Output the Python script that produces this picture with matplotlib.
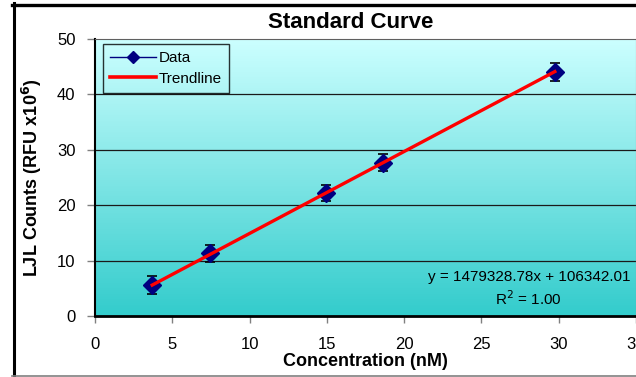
import matplotlib
matplotlib.use("Agg")
import matplotlib.pyplot as plt
import numpy as np
from matplotlib.lines import Line2D

plt.rcParams['font.family'] = ['Liberation Sans', 'DejaVu Sans']

# data (counts in RFU x10^6)
conc = [3.7, 7.45, 14.95, 18.6, 29.75]
counts = [5.6, 11.3, 22.2, 27.7, 44.1]
errors = [1.6, 1.5, 1.5, 1.5, 1.6]

# trendline y = slope*x + intercept (RFU)
slope = 1479328.78
intercept = 106342.01
r2 = 1.00

x_ticks = [0, 5, 10, 15, 20, 25, 30, 35]
y_ticks = [0, 10, 20, 30, 40, 50]

W, H = 636, 377
fig = plt.figure(figsize=(W / 100, H / 100), dpi=100)
ax = fig.add_axes([95 / W, 1 - 316 / H, 541 / W, 277 / H])

# gradient background of the plot area
top_c = np.array([204, 255, 255]) / 255
bot_c = np.array([51, 204, 204]) / 255
t = np.linspace(0, 1, 256)[:, None]
grad = (top_c * (1 - t) + bot_c * t)[:, None, :]
ax.imshow(grad, extent=[0, 35, 0, 50], aspect='auto', zorder=0, origin='upper')

ax.set_xlim(0, 35)
ax.set_ylim(0, 50)

# horizontal gridlines
for yv in y_ticks[1:-1]:
    ax.axhline(yv, color='#1a1a1a', lw=0.9, zorder=1)

# data with error bars
ax.errorbar(conc, counts, yerr=errors, fmt='none', ecolor='black',
            elinewidth=1.0, capsize=3.5, capthick=1.2, zorder=3)
ax.plot(conc, counts, linestyle='none', marker='D', markersize=9,
        color='#000080', zorder=4)

# trendline
xs = np.array([conc[0], conc[-1]])
ys = (slope * xs + intercept) / 1e6
ax.plot(xs, ys, color='#ff0000', lw=2.4, zorder=5)

eq = 'y = %.2fx + %.2f\nR$^2$ = %.2f' % (slope, intercept, r2)
ax.text(28.07, 4.9, eq, ha='center', va='center', fontsize=11,
        linespacing=1.3, zorder=6)

ax.set_xticks(x_ticks)
ax.set_yticks(y_ticks)
ax.tick_params(axis='x', direction='out', length=5, width=1, color='#808080',
               labelsize=12, pad=10)
ax.tick_params(axis='y', direction='out', length=6, width=1, color='#808080',
               labelsize=12, pad=8)

ax.spines['left'].set_color('black')
ax.spines['left'].set_linewidth(1.5)
ax.spines['bottom'].set_color('black')
ax.spines['bottom'].set_linewidth(2.0)
ax.spines['top'].set_color('#606060')
ax.spines['top'].set_linewidth(0.8)
ax.spines['right'].set_color('#909090')
ax.spines['right'].set_linewidth(0.8)

ax.set_xlabel('Concentration (nM)', fontsize=13, fontweight='bold', labelpad=1)
ax.set_ylabel('LJL Counts (RFU x10$^{\\mathbf{6}}$)', fontsize=13,
              fontweight='bold', labelpad=9)
fig.text(351 / W, 1 - 22 / H, 'Standard Curve', ha='center', va='center',
         fontsize=16, fontweight='bold')

handles = [
    Line2D([], [], color='#000080', lw=1, marker='D', markersize=6),
    Line2D([], [], color='#ff0000', lw=2.6),
]
leg = ax.legend(handles, ['Data', 'Trendline'], loc='upper left',
                bbox_to_anchor=(8 / 541, 1 - 5 / 277), fontsize=11,
                frameon=True, fancybox=False, facecolor='none',
                edgecolor='black', handlelength=3.0, handletextpad=0.2,
                borderpad=0.45, labelspacing=0.45, borderaxespad=0)
leg.get_frame().set_linewidth(1.0)

# outer chart frame (right side cut off in the reference)
fig.add_artist(Line2D([13.5 / W, 13.5 / W], [0, 1 - 3 / H],
                      transform=fig.transFigure, color='black', lw=2.2))
fig.add_artist(Line2D([12 / W, 1], [1 - 4.5 / H, 1 - 4.5 / H],
                      transform=fig.transFigure, color='black', lw=2.4))
fig.add_artist(Line2D([12 / W, 1], [1 - 375.5 / H, 1 - 375.5 / H],
                      transform=fig.transFigure, color='#808080', lw=1.2))

fig.savefig('out.png', dpi=100)
